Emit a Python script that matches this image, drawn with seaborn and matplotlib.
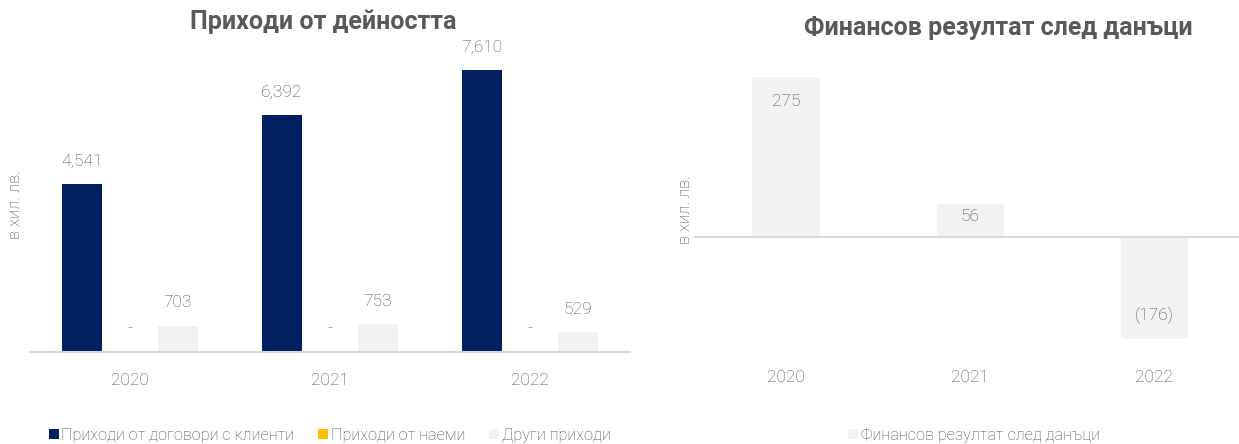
import matplotlib
matplotlib.use("Agg")
import matplotlib.pyplot as plt
from matplotlib.lines import Line2D
from matplotlib.transforms import blended_transform_factory
import seaborn as sns
import pandas as pd

years = ["2020", "2021", "2022"]
series_names = ["Приходи от договори с клиенти", "Приходи от наеми", "Други приходи"]
rev_contracts = [4541, 6392, 7610]
rev_rent = [0, 0, 0]
rev_other = [703, 753, 529]
profit_after_tax = [275, 56, -176]

title_left = "Приходи от дейността"
title_right = "Финансов резултат след данъци"
ylabel = "в хил. лв."
profit_series = "Финансов резултат след данъци"

colors = ["#002060", "#FFC000", "#F2F2F2"]
text_col = "#595959"
label_col = "#4D4D4D"
base_col = "#D9D9D9"

sns.set_theme(style="white")
plt.rcParams["font.family"] = ["Roboto", "DejaVu Sans"]
plt.rcParams["font.weight"] = "light"

fig = plt.figure(figsize=(12.39, 4.44), dpi=100)
W, H = 1239, 444

def ax_rect(x0, y_top, x1, y_bot):
    return [x0 / W, 1 - y_bot / H, (x1 - x0) / W, (y_bot - y_top) / H]

ax1 = fig.add_axes(ax_rect(30, 50, 630, 352))
ax2 = fig.add_axes(ax_rect(694, 50, 1239, 352))

# ---- left chart
df = pd.DataFrame({
    "year": years * 3,
    "series": [series_names[0]] * 3 + [series_names[1]] * 3 + [series_names[2]] * 3,
    "value": rev_contracts + rev_rent + rev_other,
})
sns.barplot(data=df, x="year", y="value", hue="series", hue_order=series_names,
            palette=colors, width=0.72, gap=0.17, errorbar=None, legend=False,
            saturation=1, ax=ax1, linewidth=0)
ax1.set_xlim(-0.5, 2.5)
ax1.set_ylim(0, 8150)
for cont in ax1.containers:
    for bar in cont:
        v = bar.get_height()
        lab = "-" if v == 0 else f"{v:,.0f}"
        ax1.annotate(lab, (bar.get_x() + bar.get_width() / 2, v),
                     xytext=(0, 23), textcoords="offset pixels",
                     ha="center", va="center", fontsize=12.5, color=label_col,
                     fontweight="light")

# ---- right chart
dfp = pd.DataFrame({"year": years, "value": profit_after_tax})
sns.barplot(data=dfp, x="year", y="value", color=colors[2], saturation=1,
            width=0.365, errorbar=None, ax=ax2, linewidth=0)
ax2.set_xlim(-0.5, 2.46)
ax2.set_ylim(-198, 322)
for bar in ax2.patches:
    v = bar.get_height()
    p0 = ax2.transData.transform((0, 0))[1]
    p1 = ax2.transData.transform((0, v))[1]
    hp = abs(p1 - p0)
    off = min(24, hp * 0.37)
    sign = -1 if v >= 0 else 1
    lab = f"{v:,.0f}" if v >= 0 else f"({abs(v):,.0f})"
    ax2.annotate(lab, (bar.get_x() + bar.get_width() / 2, v),
                 xytext=(0, sign * off), textcoords="offset pixels",
                 ha="center", va="center", fontsize=12.5, color=label_col,
                 fontweight="light")

for ax in (ax1, ax2):
    ax.axhline(0, color=base_col, lw=1.5, zorder=3, clip_on=False)
    for s in ax.spines.values():
        s.set_visible(False)
    ax.set_yticks([])
    ax.set_xlabel("")
    ax.set_ylabel("")
    ax.tick_params(axis="x", length=0, pad=0, labelsize=12.5, labelcolor=label_col)
    for t in ax.get_xticklabels():
        t.set_fontweight("light")

ax1.tick_params(axis="x", pad=15)
ax2.set_xticks([])
tr = blended_transform_factory(ax2.transData, fig.transFigure)
for i, yr in enumerate(years):
    ax2.text(i, 1 - 378 / H, yr, transform=tr,
             ha="center", va="center", fontsize=12.5, color=label_col, fontweight="light")

# titles
fig.text(323 / W, 1 - 22 / H, title_left, ha="center", va="center",
         fontsize=18, fontweight="bold", color=text_col)
fig.text(998 / W, 1 - 28 / H, title_right, ha="center", va="center",
         fontsize=18, fontweight="bold", color=text_col)

# y labels
fig.text(15 / W, 1 - 205 / H, ylabel, rotation=90, ha="center", va="center",
         fontsize=12, color=label_col, fontweight="light")
fig.text(685 / W, 1 - 210 / H, ylabel, rotation=90, ha="center", va="center",
         fontsize=12, color=label_col, fontweight="light")

# legends
handles = [Line2D([], [], marker="s", ls="", markersize=6.5, markerfacecolor=c,
                  markeredgewidth=0) for c in colors]
fig.legend(handles, series_names, loc="center", bbox_to_anchor=(330 / W, 1 - 435 / H),
           ncol=3, frameon=False, handlelength=0.55, handletextpad=0.2,
           columnspacing=1.5, prop={"size": 11.7, "weight": "light"},
           labelcolor=label_col)
h2 = [Line2D([], [], marker="s", ls="", markersize=6.5, markerfacecolor=colors[2],
             markeredgewidth=0)]
fig.legend(h2, [profit_series], loc="center", bbox_to_anchor=(974 / W, 1 - 435 / H),
           frameon=False, handlelength=0.55, handletextpad=0.2,
           prop={"size": 11.7, "weight": "light"}, labelcolor=label_col)

fig.savefig("out.png", dpi=100)
